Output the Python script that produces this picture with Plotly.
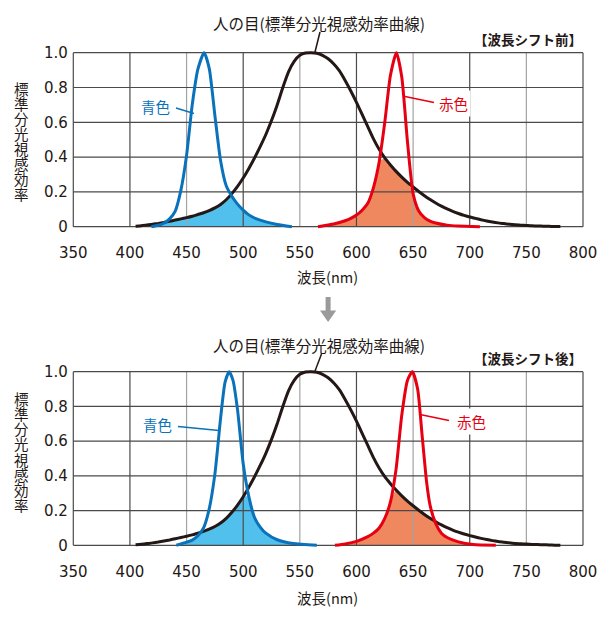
import numpy as np
import plotly.graph_objects as go

W, H = 612, 622

# ---------------- data ----------------
x_ticks = [350, 400, 450, 500, 550, 600, 650, 700, 750, 800]
y_ticks = [0, 0.2, 0.4, 0.6, 0.8, 1.0]
y_ticktext = ["0", "0.2", "0.4", "0.6", "0.8", "1.0"]

# human eye (standard luminous efficiency curve)
black_wl = list(range(405, 781, 5))
black_v = [0.003, 0.006, 0.010, 0.014, 0.019, 0.025, 0.031, 0.038, 0.045, 0.052,
           0.060, 0.070, 0.080, 0.093, 0.108, 0.128, 0.155, 0.190, 0.232, 0.280,
           0.335, 0.395, 0.460, 0.530, 0.610, 0.700, 0.800, 0.890, 0.950, 0.985,
           0.998, 1.000, 0.997, 0.985, 0.965, 0.935, 0.895, 0.840, 0.780, 0.715,
           0.645, 0.575, 0.505, 0.445, 0.395, 0.355, 0.318, 0.285, 0.255, 0.228,
           0.202, 0.178, 0.156, 0.136, 0.118, 0.102, 0.088, 0.076, 0.065, 0.056,
           0.048, 0.040, 0.033, 0.027, 0.022, 0.018, 0.014, 0.011, 0.009, 0.007,
           0.005, 0.004, 0.003, 0.002, 0.001, 0.001]

# before shift
blue_before_wl = [419, 425, 430, 435, 440, 445, 450, 455, 460, 465.5, 470, 475, 480,
                  485, 490, 495, 500, 505, 510, 520, 530, 543]
blue_before_v = [0, 0.008, 0.02, 0.045, 0.09, 0.21, 0.41, 0.70, 0.905, 1.0, 0.91, 0.64,
                 0.38, 0.235, 0.175, 0.13, 0.095, 0.068, 0.05, 0.028, 0.013, 0]
red_before_wl = [566, 575, 580, 585, 590, 595, 600, 605, 610, 615, 620, 625, 630, 635.3,
                 640, 645, 650, 655, 660, 665, 670, 680, 690, 709]
red_before_v = [0, 0.01, 0.016, 0.024, 0.034, 0.048, 0.067, 0.095, 0.135, 0.225, 0.37,
                0.60, 0.87, 1.0, 0.86, 0.49, 0.19, 0.09, 0.052, 0.032, 0.021, 0.009,
                0.004, 0]

# after shift
blue_after_wl = [441, 450, 455, 460, 465, 470, 475, 480, 484, 487.6, 491, 495, 500, 505,
                 510, 515, 520, 530, 544, 565]
blue_after_v = [0, 0.018, 0.03, 0.055, 0.10, 0.21, 0.41, 0.73, 0.94, 1.0, 0.95, 0.78,
                0.47, 0.28, 0.16, 0.105, 0.07, 0.032, 0.01, 0]
red_after_wl = [581, 590, 600, 610, 615, 620, 625, 630, 635, 640, 645, 649.4, 654, 658,
                662, 665, 670, 675, 680, 690, 703, 723]
red_after_v = [0, 0.008, 0.023, 0.05, 0.07, 0.1, 0.155, 0.25, 0.44, 0.75, 0.95, 1.0, 0.90,
               0.63, 0.36, 0.23, 0.125, 0.07, 0.045, 0.02, 0.004, 0]

panels = [
    dict(blue=(blue_before_wl, blue_before_v), red=(red_before_wl, red_before_v),
         tag="【波長シフト前】", top=52.7, bottom=226.7),
    dict(blue=(blue_after_wl, blue_after_v), red=(red_after_wl, red_after_v),
         tag="【波長シフト後】", top=371.7, bottom=545.3),
]

# ---------------- styles ----------------
BLACK = "#231815"
BLUE = "#0a72bb"
RED = "#e60012"
BLUE_FILL = "#52c0ec"
RED_FILL = "#ef875f"
GRID_DARK = "#4a4a4a"
GRID_LIGHT = "#a3a3a3"
JP = "Noto Sans CJK JP"
NUM = "DejaVu Sans"

PLOT_L, PLOT_R = 73.3, 583.0
XPAD, YPAD = 4, 0.02
x_range = [x_ticks[0] - XPAD, x_ticks[-1] + XPAD]


def px(x):
    return x / W


def py(y):
    return 1 - y / H


fig = go.Figure()
layout_axes = {}
shapes = []
annotations = []

ppn = (PLOT_R - PLOT_L) / (x_ticks[-1] - x_ticks[0])
dom_x = [px(PLOT_L - XPAD * ppn), px(PLOT_R + XPAD * ppn)]

for i, p in enumerate(panels):
    xa = "x" if i == 0 else "x2"
    ya = "y" if i == 0 else "y2"
    ppu = p["bottom"] - p["top"]
    dom_y = [py(p["bottom"] + YPAD * ppu), py(p["top"] - YPAD * ppu)]

    layout_axes["xaxis" if i == 0 else "xaxis2"] = dict(
        domain=dom_x, range=x_range, anchor=ya, tickvals=x_ticks,
        ticktext=[str(t) for t in x_ticks], showgrid=False, zeroline=False,
        showline=False, ticks="", ticklabelstandoff=12, automargin=False,
        tickfont=dict(family=NUM, size=15, color=BLACK), fixedrange=True)
    layout_axes["yaxis" if i == 0 else "yaxis2"] = dict(
        domain=dom_y, range=[-YPAD, 1 + YPAD], anchor=xa, tickvals=y_ticks,
        ticktext=y_ticktext, showgrid=False, zeroline=False, showline=False,
        ticks="", ticklabelstandoff=0, automargin=False,
        tickfont=dict(family=NUM, size=15, color=BLACK), fixedrange=True)

    bwl, bv = p["blue"]
    rwl, rv = p["red"]

    # overlap fills (min of LED spectrum and eye curve)
    for (wl, v, fc) in [(bwl, bv, BLUE_FILL), (rwl, rv, RED_FILL)]:
        xs = sorted(set(wl) | {w for w in black_wl if wl[0] <= w <= wl[-1]})
        xs = np.array(xs, dtype=float)
        led = np.interp(xs, wl, v)
        eye = np.interp(xs, black_wl, black_v, left=0, right=0)
        fig.add_trace(go.Scatter(
            x=xs, y=np.minimum(led, eye), xaxis=xa, yaxis=ya, mode="lines",
            line=dict(width=0, shape="spline", smoothing=0.6, color=fc),
            fill="tozeroy", fillcolor=fc, hoverinfo="skip", showlegend=False))

    # grid / frame built from tick lists
    hx, hy = [], []
    for t in y_ticks:
        hx += [x_ticks[0], x_ticks[-1], None]
        hy += [t, t, None]
    dx, dy, lx, ly = [], [], [], []
    for t in x_ticks:
        if t % 100 == 0 or t in (x_ticks[0], x_ticks[-1]):
            dx += [t, t, None]
            dy += [y_ticks[0], y_ticks[-1], None]
        else:
            lx += [t, t, None]
            ly += [y_ticks[0], y_ticks[-1], None]
    fig.add_trace(go.Scatter(x=lx, y=ly, xaxis=xa, yaxis=ya, mode="lines",
                             line=dict(color=GRID_LIGHT, width=1.2),
                             hoverinfo="skip", showlegend=False))
    fig.add_trace(go.Scatter(x=hx, y=hy, xaxis=xa, yaxis=ya, mode="lines",
                             line=dict(color=GRID_DARK, width=1.2),
                             hoverinfo="skip", showlegend=False))
    fig.add_trace(go.Scatter(x=dx, y=dy, xaxis=xa, yaxis=ya, mode="lines",
                             line=dict(color=GRID_DARK, width=1.2),
                             hoverinfo="skip", showlegend=False))

    # curves
    fig.add_trace(go.Scatter(x=black_wl, y=black_v, xaxis=xa, yaxis=ya, mode="lines",
                             line=dict(color=BLACK, width=3, shape="spline", smoothing=0.6),
                             showlegend=False))
    fig.add_trace(go.Scatter(x=bwl, y=bv, xaxis=xa, yaxis=ya, mode="lines",
                             line=dict(color=BLUE, width=3, shape="spline", smoothing=0.6),
                             showlegend=False))
    fig.add_trace(go.Scatter(x=rwl, y=rv, xaxis=xa, yaxis=ya, mode="lines",
                             line=dict(color=RED, width=3, shape="spline", smoothing=0.6),
                             showlegend=False))

# ---------------- text & decorations (pixel positions) ----------------
def ann(text, x, y, size=14, color=BLACK, xanchor="center", bg=None, family=JP):
    d = dict(text=text, x=px(x), y=py(y), xref="paper", yref="paper",
             showarrow=False, xanchor=xanchor, yanchor="middle",
             font=dict(family=family, size=size, color=color))
    if bg:
        d.update(bgcolor=bg, borderpad=2)
    annotations.append(d)


def seg(x0, y0, x1, y1, color, width=1.5):
    shapes.append(dict(type="line", xref="paper", yref="paper",
                       x0=px(x0), y0=py(y0), x1=px(x1), y1=py(y1),
                       line=dict(color=color, width=width)))


title = "人の目(標準分光視感効率曲線)"
ylabel = "標準分光視感効率"
xlabel = "波長(nm)"

# top panel
ann(title, 319, 23, size=15.5)
seg(320, 32, 315, 52, BLACK)
ann("<b>" + panels[0]["tag"] + "</b>", 584, 39.5, size=13.5, xanchor="right")
ann("青色", 155, 106.5, size=14.5, color=BLUE)
seg(176, 108, 194, 113.5, BLUE)
ann("赤色", 453.5, 103.5, size=14.5, color=RED, bg="white")
seg(405, 96.5, 434, 102.5, RED)
ann(xlabel, 327, 276, size=14.5)
for k, ch in enumerate(ylabel):
    ann(ch, 21.5, 88.3 + k * 15, size=14.5)

# arrow
shaft_l, shaft_r, s_top, s_bot = 325.6, 330.6, 297, 310.5
head_l, head_r, head_tip = 320, 336.2, 322
path = (f"M {px(shaft_l)},{py(s_top)} L {px(shaft_r)},{py(s_top)} "
        f"L {px(shaft_r)},{py(s_bot)} L {px(head_r)},{py(s_bot)} "
        f"L {px((head_l + head_r) / 2)},{py(head_tip)} L {px(head_l)},{py(s_bot)} "
        f"L {px(shaft_l)},{py(s_bot)} Z")
shapes.append(dict(type="path", xref="paper", yref="paper", path=path,
                   fillcolor="#9a9a9a", line=dict(width=0)))

# bottom panel
ann(title, 319, 344.5, size=15.5)
seg(321.5, 354, 315, 371, BLACK)
ann("<b>" + panels[1]["tag"] + "</b>", 584, 357.5, size=13.5, xanchor="right")
ann("青色", 157.5, 425, size=14.5, color=BLUE)
seg(178, 426.5, 219, 430.5, BLUE)
ann("赤色", 471.5, 421.5, size=14.5, color=RED, bg="white")
seg(420, 414.5, 449, 420.5, RED)
ann(xlabel, 327, 597, size=14.5)
for k, ch in enumerate(ylabel):
    ann(ch, 21.5, 398.3 + k * 15.2, size=14.5)

fig.update_layout(
    width=W, height=H, autosize=False,
    margin=dict(l=0, r=0, t=0, b=0, pad=0),
    paper_bgcolor="white", plot_bgcolor="rgba(0,0,0,0)",
    showlegend=False, shapes=shapes, annotations=annotations,
    **layout_axes)

fig.write_html(
    "out.html",
    config={"displayModeBar": False, "staticPlot": True},
    post_script="document.body.style.margin='0';document.body.style.overflow='hidden';")
